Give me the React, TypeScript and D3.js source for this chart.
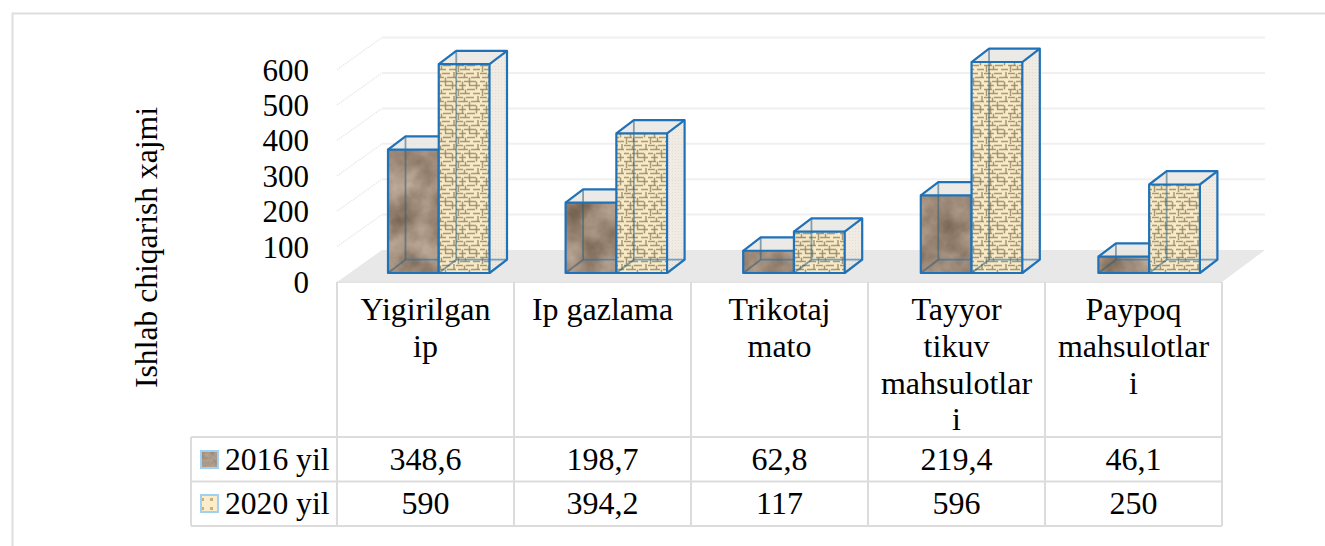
import React from "react";
import * as d3 from "d3";

const categories = ["Yigirilgan ip", "Ip gazlama", "Trikotaj mato", "Tayyor tikuv mahsulotlari", "Paypoq mahsulotlari"];
const categoryLines = [["Yigirilgan", "ip"], ["Ip gazlama"], ["Trikotaj", "mato"], ["Tayyor", "tikuv", "mahsulotlar", "i"], ["Paypoq", "mahsulotlar", "i"]];
const seriesNames = ["2016 yil", "2020 yil"];
const values2016 = [348.6, 198.7, 62.8, 219.4, 46.1];
const values2020 = [590, 394.2, 117, 596, 250];
const yTicks = [0, 100, 200, 300, 400, 500, 600];
const yTitle = "Ishlab chiqarish xajmi";

const FONT = "'Liberation Serif', 'Times New Roman', serif";
const W = 1325, H = 546;
const FS = 31;
const FS_TABLE = 32;
const DX = 17.5, DY = -13.3;
const BLUE = "#1f71b8";
const TABLE = "#dcdcdc";

const h = d3.scaleLinear().domain([0, 600]).range([0, 212.4]);
const tableX = d3.scaleBand<string>().domain(categories).range([337, 1222]);
const barX = d3.scaleBand<string>().domain(categories).range([337, 1225]);
const serieX = d3.scaleBand<string>().domain(seriesNames).range([51, 152.5]);

const FRONT_FLOOR = 273;
const WALL_LEFT = 382, WALL_RIGHT = 1265, WALL_FLOOR = 250, EDGE_LEFT = 337, EDGE_FLOOR = 282, EDGE_RIGHT = 1222;
const TABLE_LEFT = 191, ROW1 = 437, ROW2 = 481.5, ROW3 = 526;

const pts = (a: number[][]) => a.map((p) => p.join(",")).join(" ");

// woven tile strokes: [x1, y1, x2, y2]
const weave = [
  [0, 1.5, 7, 1.5], [10, 1.5, 18, 1.5], [2, 5.5, 12, 5.5], [15, 5.5, 24, 5.5], [0, 9.5, 5, 9.5], [8, 9.5, 20, 9.5],
  [3, 13.5, 10, 13.5], [13, 13.5, 24, 13.5], [0, 17.5, 8, 17.5], [11, 17.5, 19, 17.5], [4, 21.5, 14, 21.5], [17, 21.5, 24, 21.5],
  [8.5, 1.5, 8.5, 5.5], [13.5, 5.5, 13.5, 13.5], [6.5, 9.5, 6.5, 17.5], [20.5, 9.5, 20.5, 17.5], [9.5, 17.5, 9.5, 21.5], [2.5, 17.5, 2.5, 24], [22, 0, 22, 5.5],
];

function Bar({ x, value, fill, filter, opacity, side: sideFill }: { x: number; value: number; fill: string; filter?: string; opacity: number; side: string }) {
  const w = serieX.bandwidth();
  const top = FRONT_FLOOR - h(value);
  const x1 = x + w;
  const f = [[x, top], [x1, top], [x1, FRONT_FLOOR], [x, FRONT_FLOOR]];
  const up = (p: number[]) => [p[0] + DX, p[1] + DY];
  const side = [[x1, top], up([x1, top]), up([x1, FRONT_FLOOR]), [x1, FRONT_FLOOR]];
  const lid = [[x, top], [x1, top], up([x1, top]), up([x, top])];
  return (
    <g>
      <polygon points={pts(side)} fill={sideFill} fillOpacity={0.8} />
      <polygon points={pts(lid)} fill="#e9e6e2" fillOpacity={0.85} />
      <polygon points={pts(f)} fill={fill} filter={filter} opacity={opacity} />
      <g fill="none" strokeWidth={1.8}>
        <line x1={x + DX} y1={top + DY} x2={x + DX} y2={FRONT_FLOOR + DY} stroke="#2f5f78" strokeOpacity={0.55} />
        <line x1={x + DX} y1={FRONT_FLOOR + DY} x2={x1 + DX} y2={FRONT_FLOOR + DY} stroke={BLUE} strokeOpacity={0.6} />
        <line x1={x} y1={FRONT_FLOOR} x2={x + DX} y2={FRONT_FLOOR + DY} stroke="#2f5f78" strokeOpacity={0.55} />
      </g>
      <g fill="none" stroke={BLUE} strokeWidth={2.2} strokeLinejoin="round">
        <polygon points={pts(f)} />
        <polyline points={pts([[x, top], up([x, top]), up([x1, top]), up([x1, FRONT_FLOOR]), [x1, FRONT_FLOOR]])} />
        <line x1={x1} y1={top} x2={x1 + DX} y2={top + DY} />
      </g>
    </g>
  );
}

function Chart() {
  const text = { fontFamily: FONT, fontSize: FS, fill: "#000" };
  const cell = { fontFamily: FONT, fontSize: FS_TABLE, fill: "#000" };
  return (
    <svg width={W} height={H} viewBox={`0 0 ${W} ${H}`} style={{ position: "absolute", left: 0, top: 0, display: "block", background: "#fff" }}>
      <defs>
        <filter id="stone" x="0" y="0" width="100%" height="100%" colorInterpolationFilters="sRGB">
          <feTurbulence type="fractalNoise" baseFrequency="0.03" numOctaves={4} seed={7} />
          <feColorMatrix type="matrix" values="0.42 0 0 0 0.41  0.42 0 0 0 0.33  0.42 0 0 0 0.26  0 0 0 0 1" />
          <feComposite in2="SourceAlpha" operator="in" />
        </filter>
        <filter id="stoneLight" x="0" y="0" width="100%" height="100%" colorInterpolationFilters="sRGB">
          <feTurbulence type="fractalNoise" baseFrequency="0.2" numOctaves={2} seed={3} />
          <feColorMatrix type="matrix" values="0.2 0 0 0 0.57  0.2 0 0 0 0.5  0.2 0 0 0 0.44  0 0 0 0 1" />
          <feComposite in2="SourceAlpha" operator="in" />
        </filter>
        <filter id="soft" x="-5%" y="-5%" width="110%" height="110%">
          <feGaussianBlur stdDeviation="0.75" />
        </filter>
        <pattern id="burlap" patternUnits="userSpaceOnUse" width={24} height={24}>
          <rect width={24} height={24} fill="#f8e8c4" />
          <g stroke="#8f7f5c" strokeWidth={1.5} strokeOpacity={0.8} filter="url(#soft)">
            {weave.map((s, i) => <line key={i} x1={s[0]} y1={s[1]} x2={s[2]} y2={s[3]} />)}
          </g>
        </pattern>
        <pattern id="sideDash" patternUnits="userSpaceOnUse" width={3} height={3}>
          <rect width={3} height={3} fill="#ece6dc" />
          <rect width={1} height={1} fill="#dcd5ca" />
        </pattern>
        <pattern id="sideDashGrey" patternUnits="userSpaceOnUse" width={3} height={3}>
          <rect width={3} height={3} fill="#e8e4df" />
          <rect width={1} height={1} fill="#d8d2cb" />
        </pattern>
        <pattern id="swatch2020" patternUnits="userSpaceOnUse" width={9} height={9}>
          <rect width={9} height={9} fill="#fbeccb" />
          <rect x={3} y={3} width={3} height={3} fill="#c9ae78" filter="url(#soft)" />
        </pattern>
      </defs>

      {/* outer frame */}
      <path d={`M12.5 ${H} V13.5 H${W}`} fill="none" stroke="#dedede" strokeWidth={2} />

      <text transform={`translate(157,${388}) rotate(-90)`} {...text} textLength={281} lengthAdjust="spacingAndGlyphs">{yTitle}</text>

      {/* floor and walls */}
      <polygon points={pts([[EDGE_LEFT, EDGE_FLOOR], [WALL_LEFT, WALL_FLOOR], [WALL_RIGHT, WALL_FLOOR], [EDGE_RIGHT, EDGE_FLOOR]])} fill="#e8e8e8" />
      {yTicks.filter((t) => t > 0).map((t) => (
        <g key={t}>
          <line x1={WALL_LEFT} x2={WALL_RIGHT} y1={WALL_FLOOR - h(t)} y2={WALL_FLOOR - h(t)} stroke="#f0f0f0" strokeWidth={2} />
          <line x1={EDGE_LEFT} y1={EDGE_FLOOR - h(t)} x2={WALL_LEFT} y2={WALL_FLOOR - h(t)} stroke="#e8e8e8" strokeWidth={1.3} strokeDasharray="1.5 1" />
        </g>
      ))}
      {yTicks.map((t) => (
        <text key={t} x={309} y={EDGE_FLOOR - h(t) + 11} textAnchor="end" {...text}>{t}</text>
      ))}

      {/* bars */}
      {categories.map((c, i) => {
        const x0 = barX(c)!;
        return (
          <g key={c}>
            <Bar x={x0 + serieX(seriesNames[0])!} value={values2016[i]} fill="#000" filter="url(#stone)" opacity={1} side="url(#sideDashGrey)" />
            <Bar x={x0 + serieX(seriesNames[1])!} value={values2020[i]} fill="url(#burlap)" opacity={0.95} side="url(#sideDash)" />
          </g>
        );
      })}

      {/* data table */}
      <g stroke={TABLE} strokeWidth={2} fill="none">
        <line x1={EDGE_LEFT} x2={EDGE_RIGHT} y1={EDGE_FLOOR} y2={EDGE_FLOOR} stroke="#e4e4e4" />
        {[ROW1, ROW2, ROW3].map((y) => <line key={y} x1={TABLE_LEFT} x2={EDGE_RIGHT} y1={y} y2={y} />)}
        <line x1={TABLE_LEFT} x2={TABLE_LEFT} y1={ROW1} y2={ROW3} />
        {categories.map((c) => <line key={c} x1={tableX(c)!} x2={tableX(c)!} y1={EDGE_FLOOR} y2={ROW3} />)}
        <line x1={EDGE_RIGHT} x2={EDGE_RIGHT} y1={EDGE_FLOOR} y2={ROW3} />
      </g>

      {categories.map((c, i) => {
        const cx = tableX(c)! + tableX.bandwidth() / 2;
        return (
          <g key={c}>
            {categoryLines[i].map((l, j) => (
              <text key={j} x={cx} y={320 + j * 36.8} textAnchor="middle" {...cell}>{l}</text>
            ))}
            <text x={cx} y={469.5} textAnchor="middle" {...cell}>{String(values2016[i]).replace(".", ",")}</text>
            <text x={cx} y={514} textAnchor="middle" {...cell}>{String(values2020[i]).replace(".", ",")}</text>
          </g>
        );
      })}

      {/* legend keys */}
      <rect x={201} y={451} width={17} height={17} fill="#000" filter="url(#stoneLight)" />
      <rect x={201} y={451} width={17} height={17} fill="none" stroke="#9fd0f5" strokeWidth={2} />
      <rect x={201} y={495} width={17} height={17} fill="url(#swatch2020)" stroke="#9fd0f5" strokeWidth={2} />
      <text x={225} y={469.5} {...cell} fontSize={31.6}>{seriesNames[0]}</text>
      <text x={225} y={514} {...cell} fontSize={31.6}>{seriesNames[1]}</text>
    </svg>
  );
}

export default function App() {
  return <Chart />;
}
